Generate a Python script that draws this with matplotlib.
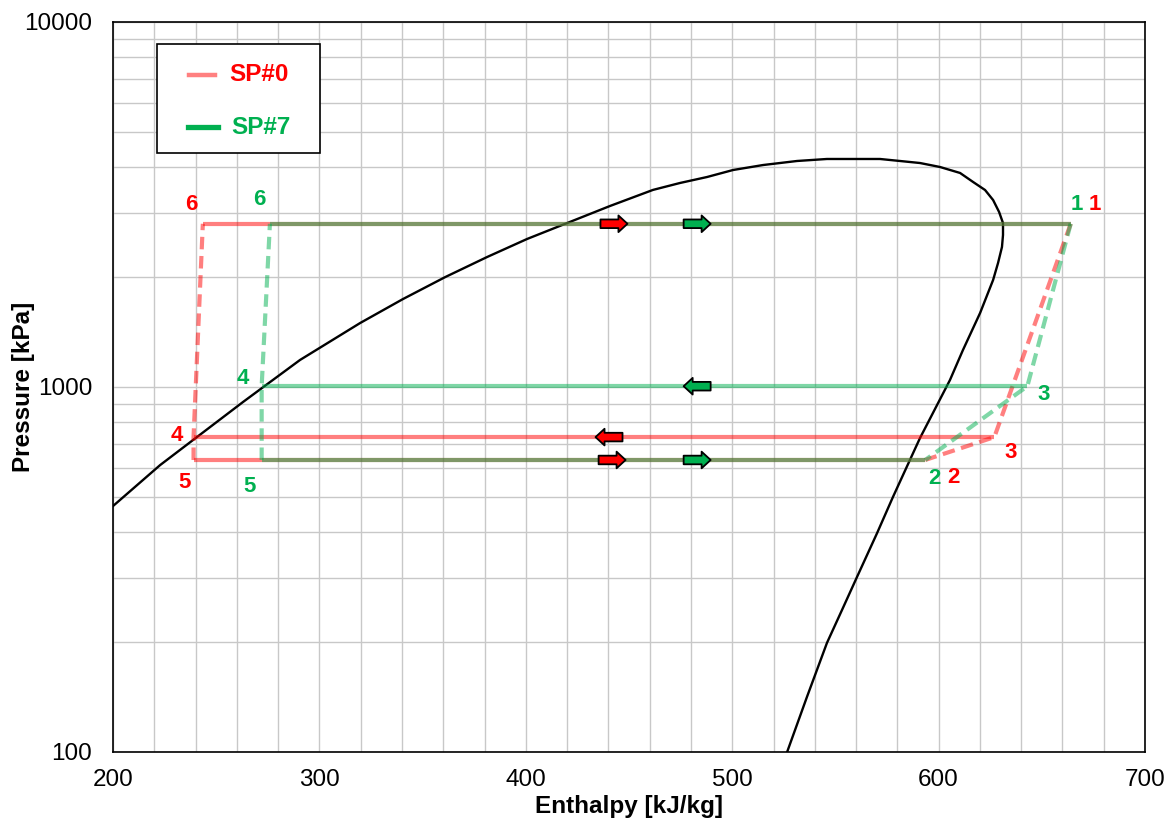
import matplotlib
matplotlib.use("Agg")
import matplotlib.pyplot as plt
from matplotlib.ticker import MultipleLocator, LogLocator, NullFormatter
from matplotlib.lines import Line2D
from matplotlib.patches import Rectangle

plt.rcParams['font.family'] = ['Liberation Sans', 'DejaVu Sans']

# saturation dome
dome_h = [200.0, 222.8, 238.8, 263.0, 290.6, 319.7, 340.5, 360.9, 381.2, 400.6,
          420.0, 440.8, 461.6, 474.7, 487.8, 500.4, 514.9, 531.4, 545.9, 558.5,
          571.6, 581.3, 591.0, 600.7, 610.4, 616.7, 622.5, 626.4, 629.3, 631.2,
          631.2, 630.7, 628.8, 626.4, 620.1, 611.8, 605.5, 591.0, 586.1, 577.9,
          570.2, 560.5, 553.2, 545.9, 536.2, 526.6]
dome_P = [472, 611, 716, 910, 1186, 1497, 1742, 2000, 2270, 2544,
          2813, 3133, 3467, 3622, 3761, 3931, 4056, 4161, 4214, 4214,
          4214, 4161, 4108, 4006, 3858, 3645, 3465, 3253, 3017, 2813,
          2609, 2419, 2187, 1964, 1595, 1263, 1045, 725, 631, 500,
          398, 302, 245, 199, 141.5, 100]

# cycle state points 1..6
sp0_h = [664.0, 593.5, 627.0, 239.0, 239.0, 243.5]
sp0_P = [2800, 631, 729, 729, 631, 2800]
sp7_h = [664.0, 593.5, 643.0, 272.0, 272.0, 276.0]
sp7_P = [2800, 631, 1005, 1005, 631, 2800]
point_labels = ['1', '2', '3', '4', '5', '6']

# flow direction arrows: (h at arrow centre, P, direction)
sp0_arrows = [(442.7, 2800, 1), (440.3, 729, -1), (441.8, 631, 1)]
sp7_arrows = [(483.0, 2800, 1), (483.0, 1005, -1), (483.0, 631, 1)]

RED = '#FF0000'
GREEN = '#00B050'

fig = plt.figure(figsize=(11.74, 8.27), dpi=100)
ax = fig.add_axes([0.0963, 0.0907, 0.879, 0.8827])

ax.set_yscale('log')
ax.set_xlim(200, 700)
ax.set_ylim(100, 10000)

ax.xaxis.set_major_locator(MultipleLocator(100))
ax.xaxis.set_minor_locator(MultipleLocator(20))
ax.set_yticks([100, 1000, 10000])
ax.set_yticklabels(['100', '1000', '10000'])
ax.yaxis.set_minor_locator(LogLocator(base=10, subs=range(2, 10)))
ax.yaxis.set_minor_formatter(NullFormatter())
ax.grid(True, which='both', color='#C8C8C8', lw=1.0)
ax.set_axisbelow(True)
ax.tick_params(which='both', length=0)
ax.tick_params(axis='y', pad=15, labelsize=17.5)
ax.tick_params(axis='x', pad=12, labelsize=17.5)
for s in ax.spines.values():
    s.set_color('black')
    s.set_linewidth(1.2)

ax.set_xlabel('Enthalpy [kJ/kg]', fontsize=17.5, fontweight='bold')
ax.set_ylabel('Pressure [kPa]', fontsize=17.5, fontweight='bold')
ax.xaxis.set_label_coords(0.5, -0.059)
ax.yaxis.set_label_coords(-0.0756, 0.5)

# dome
ax.plot(dome_h, dome_P, color='black', lw=1.7, zorder=3)

dash = (0, (3, 1.6))


def draw_cycle(h, P, color):
    kw = dict(color=color, alpha=0.5, lw=3.0, solid_capstyle='butt',
              dash_capstyle='butt', zorder=4)
    # solid: 6-1, 4-3, 5-2
    ax.plot([h[5], h[0]], [P[5], P[0]], **kw)
    ax.plot([h[3], h[2]], [P[3], P[2]], **kw)
    ax.plot([h[4], h[1]], [P[4], P[1]], **kw)
    # dashed: 1-3-2 and 5-4-6
    ax.plot([h[0], h[2], h[1]], [P[0], P[2], P[1]], ls=dash, **kw)
    ax.plot([h[4], h[3], h[5]], [P[4], P[3], P[5]], ls=dash, **kw)


draw_cycle(sp0_h, sp0_P, RED)
draw_cycle(sp7_h, sp7_P, GREEN)


def draw_arrows(arrows, color):
    for h, P, d in arrows:
        # tip half an arrow length ahead of the centre
        tip = h + d * 13.5 / 2.064
        ax.annotate('', xy=(tip, P), xycoords='data',
                    xytext=(-27 * d, 0), textcoords='offset pixels',
                    arrowprops=dict(arrowstyle='simple,head_width=1.2,head_length=0.65,tail_width=0.62',
                                    fc=color, ec='black', lw=1.3, mutation_scale=10,
                                    shrinkA=0, shrinkB=0),
                    zorder=6)


draw_arrows(sp0_arrows, RED)
draw_arrows(sp7_arrows, GREEN)

# point labels (offsets in pixels)
sp0_off = [(24, 19), (28, -18), (16, -15), (-17, 2), (-9, -23), (-12, 19)]
sp7_off = [(6, 19), (9, -19), (16, -8), (-19, 8), (-12, -27), (-11, 24)]
for h, P, lab, off in zip(sp0_h, sp0_P, point_labels, sp0_off):
    ax.annotate(lab, (h, P), xytext=off, textcoords='offset pixels', color=RED,
                fontsize=16, fontweight='bold', ha='center', va='center', zorder=7)
for h, P, lab, off in zip(sp7_h, sp7_P, point_labels, sp7_off):
    ax.annotate(lab, (h, P), xytext=off, textcoords='offset pixels', color=GREEN,
                fontsize=16, fontweight='bold', ha='center', va='center', zorder=7)

# legend box
ax.add_patch(Rectangle((0.0426, 0.8205), 0.158, 0.1494, transform=ax.transAxes,
                       fc='white', ec='black', lw=1.2, zorder=8))
ax.add_line(Line2D([0.0736, 0.0988], [0.9274, 0.9274], transform=ax.transAxes,
                   color='#FF8080', lw=3.2, zorder=9))
ax.text(0.1124, 0.9274, 'SP#0', transform=ax.transAxes, color=RED, fontsize=17.5,
        fontweight='bold', va='center', ha='left', zorder=9)
ax.add_line(Line2D([0.0726, 0.1016], [0.856, 0.856], transform=ax.transAxes,
                   color=GREEN, lw=3.8, zorder=9))
ax.text(0.1143, 0.856, 'SP#7', transform=ax.transAxes, color=GREEN, fontsize=17.5,
        fontweight='bold', va='center', ha='left', zorder=9)

fig.savefig('out.png', dpi=100)
